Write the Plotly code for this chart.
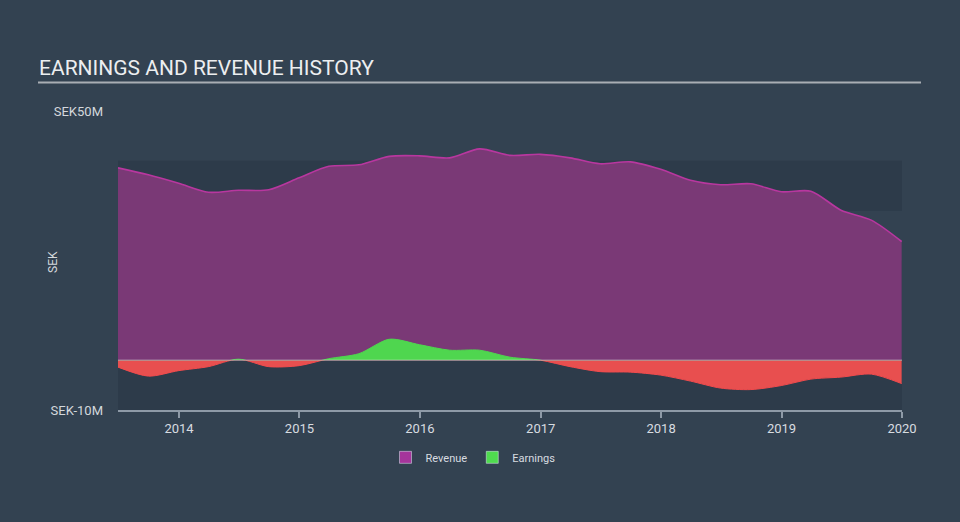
import plotly.graph_objects as go

# ---- data (SEK millions) ----
dates = [
    "2013-06-30", "2013-09-30", "2013-12-31", "2014-03-31", "2014-06-30", "2014-09-30",
    "2014-12-31", "2015-03-31", "2015-06-30", "2015-09-30", "2015-12-31", "2016-03-31",
    "2016-06-30", "2016-09-30", "2016-12-31", "2017-03-31", "2017-06-30", "2017-09-30",
    "2017-12-31", "2018-03-31", "2018-06-30", "2018-09-30", "2018-12-31", "2019-03-31",
    "2019-06-30", "2019-09-30", "2019-12-31",
]
revenue = [
    38.6, 37.2, 35.5, 33.7, 34.1, 34.2, 36.6, 38.9, 39.2, 40.9, 41.0, 40.6, 42.4, 41.1,
    41.3, 40.6, 39.4, 39.8, 38.3, 36.1, 35.2, 35.4, 33.8, 33.9, 30.1, 28.1, 23.8,
]
earnings = [
    -1.4, -3.2, -2.1, -1.3, 0.2, -1.3, -1.1, 0.3, 1.3, 4.2, 3.1, 2.0, 2.0, 0.6,
    0.0, -1.3, -2.3, -2.4, -3.0, -4.2, -5.6, -5.9, -5.1, -3.8, -3.4, -2.8, -4.7,
]
year_ticks = ["2014-01-01", "2015-01-01", "2016-01-01", "2017-01-01",
              "2018-01-01", "2019-01-01", "2020-01-01"]
year_labels = ["2014", "2015", "2016", "2017", "2018", "2019", "2020"]
y_tickvals = [-10, 50]
y_ticktext = ["SEK-10M", "SEK50M"]
bands = [(-10, 0), (10, 20), (30, 40)]

W, H = 960, 522
L, R, T, B = 118, 58, 110.5, 111.5
PW, PH = W - L - R, H - T - B


def px_x(p):
    return (p - L) / PW


def px_y(p):
    return (H - B - p) / PH


BG = "#334251"
BAND = "#2d3b4a"
FONT = "Roboto"

fig = go.Figure()

fig.add_trace(go.Scatter(
    x=dates, y=revenue, mode="lines", line=dict(color="#b8379f", width=1.6, shape="spline", smoothing=0.8),
    fill="tozeroy", fillcolor="#7a3976", showlegend=False, hoverinfo="skip",
))
# earnings positive part (clipped by y2 domain)
fig.add_trace(go.Scatter(
    x=dates, y=earnings, mode="lines", line=dict(color="#4fd64f", width=1, shape="spline", smoothing=0.8),
    fill="tozeroy", fillcolor="#4fd64f", showlegend=False, hoverinfo="skip", yaxis="y2",
))
# earnings negative part (clipped by y3 domain)
fig.add_trace(go.Scatter(
    x=dates, y=earnings, mode="lines", line=dict(color="#f04b4d", width=1, shape="spline", smoothing=0.8),
    fill="tozeroy", fillcolor="#e84f4f", showlegend=False, hoverinfo="skip", yaxis="y3",
))
# legend entries
fig.add_trace(go.Bar(x=[None], y=[None], name="Revenue", marker_color="#a5359b"))
fig.add_trace(go.Bar(x=[None], y=[None], name="Earnings", marker_color="#4fdc4f"))

shapes = []
for y0, y1 in bands:
    shapes.append(dict(type="rect", xref="x domain", yref="y", x0=0, x1=1, y0=y0, y1=y1,
                       fillcolor=BAND, line=dict(width=0), layer="below"))
shapes.append(dict(type="line", xref="x domain", yref="y", x0=0, x1=1, y0=0, y1=0,
                   line=dict(color="rgba(225,225,225,0.6)", width=1), layer="above"))
# title underline
shapes.append(dict(type="line", xref="paper", yref="paper", x0=px_x(38), x1=px_x(921),
                   y0=px_y(82), y1=px_y(82), line=dict(color="#a9aeb4", width=2)))

annotations = [
    dict(text="EARNINGS AND REVENUE HISTORY", xref="paper", yref="paper", x=px_x(37), y=px_y(67.5),
         xanchor="left", yanchor="middle", showarrow=False,
         font=dict(family=FONT, size=21, color="#eceef0")),
    dict(text="SEK", xref="paper", yref="paper", x=px_x(53), y=px_y(262), textangle=-90,
         xanchor="center", yanchor="middle", showarrow=False,
         font=dict(family=FONT, size=12, color="#d4d8dc")),
]

fig.update_layout(
    width=W, height=H,
    margin=dict(l=L, r=R, t=T, b=B, autoexpand=False),
    paper_bgcolor=BG, plot_bgcolor="rgba(0,0,0,0)",
    font=dict(family=FONT, size=12, color="#d4d8dc"),
    xaxis=dict(type="date", range=["2013-06-30", "2020-01-01"], tickvals=year_ticks, ticktext=year_labels,
               showgrid=False, zeroline=False, showline=True, linecolor="#8e9aa7", linewidth=1.5,
               ticks="outside", ticklen=6, tickcolor="#8e9aa7", tickwidth=1.5,
               tickfont=dict(family=FONT, size=13, color="#d8dce0"), anchor="y"),
    yaxis=dict(range=[-10, 50], domain=[0, 1], tickvals=y_tickvals, ticktext=y_ticktext,
               showgrid=False, zeroline=False, showline=False, ticks="", ticklabelstandoff=14,
               tickfont=dict(family=FONT, size=13, color="#d4d8dc")),
    yaxis2=dict(range=[0, 50], domain=[1 / 6, 1], visible=False, anchor="x", fixedrange=True),
    yaxis3=dict(range=[-10, 0], domain=[0, 1 / 6], visible=False, anchor="x", fixedrange=True),
    shapes=shapes,
    annotations=annotations,
    legend=dict(orientation="h", x=px_x(473), y=px_y(458), xanchor="center", yanchor="middle",
                font=dict(family=FONT, size=11, color="#d8dce0"), bgcolor="rgba(0,0,0,0)",
                itemwidth=30),
    showlegend=True,
)

fig.write_html("out.html", config={"displayModeBar": False},
               post_script="document.body.style.margin='0';")
